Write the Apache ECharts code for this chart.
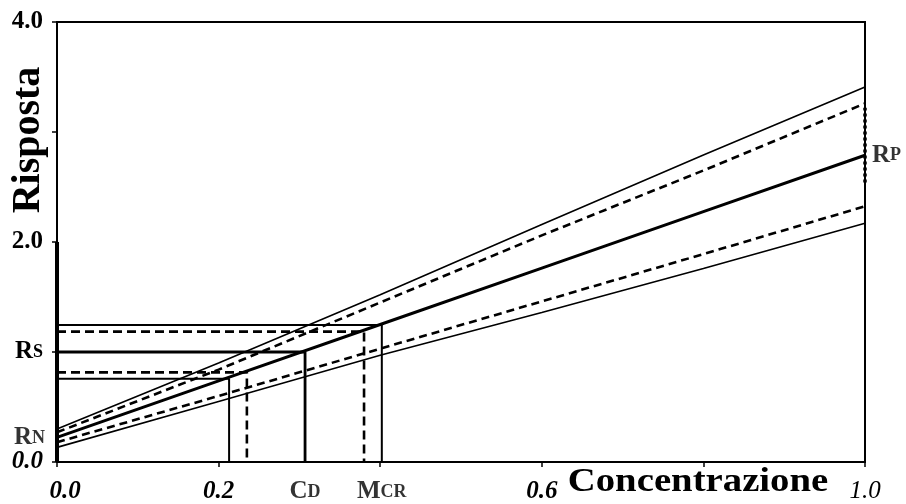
<!DOCTYPE html>
<html>
<head>
<meta charset="utf-8">
<script src="https://cdn.jsdelivr.net/npm/echarts@6/dist/echarts.min.js"></script>
<style>
html,body{margin:0;padding:0;background:#fff;}
#chart{width:906px;height:504px;}
</style>
</head>
<body>
<div id="chart"></div>
<script>
// ---- data ----
const xTicks = [0, 0.2, 0.4, 0.6, 0.8, 1.0];
const xTickLabels = ['0.0', '0.2', '', '0.6', '', '1.0'];
const yTicks = [0, 1, 2, 3, 4];
const yTickLabels = ['0.0', 'RS', '2.0', '', '4.0'];

const conc = [0, 0.2, 0.4, 0.6, 0.8, 1.0];
const central   = [0.224, 0.737, 1.25, 1.763, 2.276, 2.789];
const upperPred = [0.30, 0.90, 1.52, 2.16, 2.79, 3.41];
const upperConf = [0.27, 0.84, 1.45, 2.06, 2.65, 3.26];
const lowerConf = [0.18, 0.60, 1.03, 1.46, 1.89, 2.325];
const lowerPred = [0.133, 0.55, 0.97, 1.36, 1.76, 2.17];

const guideLevels = [1.245, 1.185, 1.0, 0.815, 0.757];
const guideConc   = [0.402, 0.380, 0.307, 0.235, 0.213];

const blankRange = [0, 2.0];          // thick part of the response axis
const rpRange = [2.54, 3.22];         // RP marks at concentration 1.0

const cdConc = 0.307;
const mcrConc = 0.402;

// ---- styles (not data) ----
const guideStyles = [
  {type: 'solid', width: 2},
  {type: [9, 5], width: 2.6},
  {type: 'solid', width: 2.8},
  {type: [9, 5], width: 2.6},
  {type: 'solid', width: 2}
];
const FONT = '"Liberation Serif", "Times New Roman", serif';

function pts(xs, ys) { return xs.map((x, i) => [x, ys[i]]); }

const series = [];
function addLine(data, style, clip) {
  series.push({
    type: 'line', data: data, symbol: 'none', silent: true, animation: false,
    clip: clip === undefined ? true : clip,
    lineStyle: Object.assign({color: '#000'}, style)
  });
}
addLine(pts(conc, upperPred), {width: 1.6});
addLine(pts(conc, upperConf), {width: 2.6, type: [8, 5]});
addLine(pts(conc, central), {width: 3});
addLine(pts(conc, lowerConf), {width: 2.6, type: [8, 5]});
addLine(pts(conc, lowerPred), {width: 1.6});

guideLevels.forEach((lv, i) => {
  addLine([[0, lv], [guideConc[i], lv], [guideConc[i], 0]], guideStyles[i], false);
});

addLine([[0, blankRange[0]], [0, blankRange[1]]], {width: 4}, false);
addLine([[1, rpRange[0]], [1, rpRange[1]]], {width: 3.5, type: [3, 3]}, false);

const small = {fontFamily: FONT, fontSize: 18, fontWeight: 'bold', color: '#000', verticalAlign: 'bottom', lineHeight: 18, padding: [0, 0, 3, 0]};
const big = {fontFamily: FONT, fontSize: 25, fontWeight: 'bold', color: '#000', verticalAlign: 'bottom', lineHeight: 25};

function pointLabel(x, y, text, position, distance) {
  series.push({
    type: 'scatter', data: [[x, y]], symbolSize: 0, silent: true, animation: false, clip: false,
    label: {show: true, position: position, distance: distance, formatter: text, color: '#000',
      rich: {b: big, s: small}}
  });
}
pointLabel(cdConc, 0, '{b|C}{s|D}', 'bottom', 17);
pointLabel(mcrConc, 0, '{b|M}{s|CR}', 'bottom', 17);
pointLabel(0, central[0], '{b|R}{s|N}', 'left', 12);
pointLabel(1, central[5], '{b|R}{s|P}', 'right', 7);

function tickIndex(arr, v) {
  for (let i = 0; i < arr.length; i++) if (Math.abs(arr[i] - v) < 1e-9) return i;
  return -1;
}

const numStyle = {fontFamily: FONT, fontSize: 25, fontWeight: 'bold', fontStyle: 'italic', color: '#000'};

const option = {
  backgroundColor: '#fff',
  animation: false,
  grid: {left: 57, right: 41, top: 22, bottom: 41, show: true, borderColor: '#000', borderWidth: 2, backgroundColor: 'transparent'},
  xAxis: {
    type: 'value', min: 0, max: 1, interval: 0.2,
    axisLine: {lineStyle: {color: '#000', width: 2}},
    axisTick: {show: true, inside: false, length: 5, lineStyle: {color: '#000', width: 1.5}},
    splitLine: {show: false},
    axisLabel: {
      margin: 17, showMinLabel: true, showMaxLabel: true,
      formatter: function (v) {
        const i = tickIndex(xTicks, v);
        if (i < 0 || !xTickLabels[i]) return '';
        const key = i === 0 ? 'f' : (i === xTicks.length - 1 ? 'e' : 'n');
        return '{' + key + '|' + xTickLabels[i] + '}';
      },
      rich: {
        n: numStyle,
        f: Object.assign({}, numStyle, {padding: [0, 0, 0, 16]}),
        e: Object.assign({}, numStyle, {fontWeight: 'normal'})
      }
    }
  },
  yAxis: {
    type: 'value', min: 0, max: 4, interval: 1,
    axisLine: {lineStyle: {color: '#000', width: 2}},
    axisTick: {show: true, inside: false, length: 5, lineStyle: {color: '#000', width: 1.5}},
    splitLine: {show: false},
    axisLabel: {
      margin: 14, showMinLabel: true, showMaxLabel: true,
      formatter: function (v) {
        const i = tickIndex(yTicks, v);
        if (i < 0 || !yTickLabels[i]) return '';
        const t = yTickLabels[i];
        if (t === 'RS') return '{b|R}{s|S}';
        if (v === 0) return '{i|' + t + '}';
        return '{n|' + t + '}';
      },
      rich: {
        i: numStyle,
        n: Object.assign({}, numStyle, {fontStyle: 'normal'}),
        b: big, s: small
      }
    }
  },
  graphic: [
    {
      type: 'text', x: 29, y: 140, rotation: Math.PI / 2, silent: true,
      style: {text: 'Risposta', fontFamily: FONT, fontSize: 40, fontWeight: 'bold', fill: '#000',
        textAlign: 'center', textVerticalAlign: 'middle'}
    },
    {
      type: 'text', x: 698, y: 482, scaleX: 1.14, silent: true,
      style: {text: 'Concentrazione', fontFamily: FONT, fontSize: 34, fontWeight: 'bold', fill: '#000',
        textAlign: 'center', textVerticalAlign: 'middle'}
    }
  ],
  series: series
};

const chart = echarts.init(document.getElementById('chart'), null, {renderer: 'canvas'});
chart.setOption(option);
</script>
</body>
</html>
